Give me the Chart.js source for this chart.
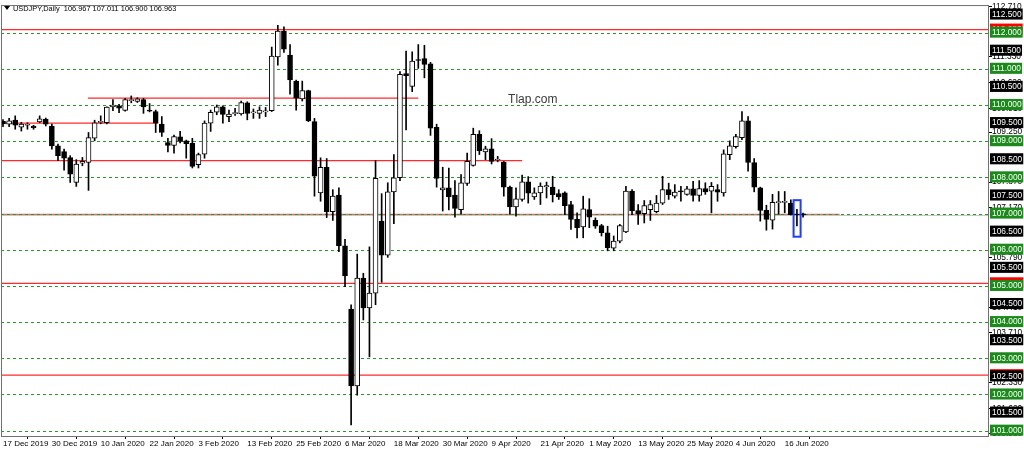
<!DOCTYPE html>
<html>
<head>
<meta charset="utf-8">
<title>USDJPY Daily</title>
<script src="https://cdn.jsdelivr.net/npm/chart.js@4.4.1/dist/chart.umd.min.js"></script>
<style>
  html, body { margin: 0; padding: 0; background: #fff; }
  canvas { display: block; }
</style>
</head>
<body>
<canvas id="priceChart" width="1024" height="452"></canvas>
<script>
// daily candles, first bar = 17 Dec 2019, one bar per trading day
const opens = [
  109.55,109.47,109.58,109.39,109.44,109.42,109.53,109.61,109.42,108.87,
  108.71,108.55,107.86,108.39,108.41,109.08,109.52,109.51,109.95,109.98,
  109.85,110.12,110.10,110.15,109.84,109.82,109.47,108.96,108.88,109.12,
  109.01,108.94,108.35,108.64,109.50,109.80,109.95,109.68,109.76,109.75,
  110.06,109.78,109.77,109.81,109.84,111.33,112.04,111.38,110.66,110.17,
  110.40,109.54,107.57,108.28,107.05,107.51,106.11,104.36,102.24,105.22,
  104.39,104.80,106.79,105.85,107.60,107.99,110.87,110.51,111.24,111.28,
  111.14,109.38,107.65,107.71,107.51,107.11,107.83,108.33,109.19,108.70,
  108.79,108.48,108.42,107.73,107.18,107.39,107.88,107.46,107.57,107.74,
  107.73,107.55,107.57,107.25,106.84,106.63,107.11,106.81,106.67,106.47,
  106.04,106.24,106.49,107.62,107.08,107.00,107.11,107.05,107.29,107.66,
  107.48,107.61,107.53,107.68,107.50,107.69,107.62,107.66,107.57,108.63,
  108.85,109.10,109.56,108.41,107.71,107.09,106.82,107.30,107.31,107.28,
  106.97,106.967
];
const highs = [
  109.60,109.63,109.70,109.52,109.51,109.44,109.70,109.64,109.47,108.92,
  108.78,108.60,108.49,108.55,109.24,109.58,109.70,109.95,110.15,110.02,
  110.18,110.25,110.20,110.18,110.04,109.86,109.68,109.08,109.17,109.27,
  109.03,109.08,108.67,109.56,109.86,110.00,109.98,109.86,109.91,110.11,
  110.09,109.89,109.95,109.93,111.60,112.20,112.16,111.67,110.69,110.66,
  110.41,109.63,108.54,108.52,107.66,107.71,106.29,104.48,105.88,105.35,
  106.08,108.46,107.55,107.85,108.63,110.92,111.49,111.47,111.67,111.65,
  111.18,109.47,108.28,108.26,107.91,108.08,108.67,109.36,109.29,108.86,
  109.07,108.58,108.44,107.76,107.71,108.06,108.02,107.71,107.85,107.87,
  108.03,107.66,107.60,107.34,107.02,107.48,107.41,106.88,106.70,106.65,
  106.38,106.70,107.75,107.66,107.25,107.36,107.36,107.50,108.03,107.84,
  107.80,107.75,107.75,107.89,107.91,107.85,107.86,107.80,108.76,109.01,
  109.19,109.82,109.68,108.52,107.73,107.23,107.53,107.61,107.61,107.38,
  107.12,107.011
];
const lows = [
  109.40,109.40,109.33,109.28,109.33,109.33,109.51,109.42,108.78,108.46,
  108.20,107.86,107.75,108.32,107.64,109.01,109.48,109.48,109.84,109.79,
  109.83,110.06,110.07,109.77,109.81,109.24,109.13,108.70,108.67,108.95,
  108.53,108.26,108.26,108.53,109.27,109.73,109.50,109.54,109.71,109.72,
  109.59,109.63,109.63,109.68,109.82,111.10,111.45,110.30,109.86,110.11,
  109.54,107.48,107.34,106.89,106.81,105.95,104.98,101.16,101.98,104.06,
  103.04,104.48,105.10,105.79,106.72,107.91,109.31,110.37,111.01,110.75,
  109.16,107.73,107.07,107.10,106.90,106.98,107.78,108.31,108.63,108.49,
  108.37,108.43,107.48,106.98,106.93,107.34,107.29,107.39,107.25,107.43,
  107.32,107.39,106.97,106.56,106.33,106.33,106.61,106.59,106.38,105.97,
  105.97,106.19,106.47,106.97,106.70,106.74,106.81,107.02,107.25,107.39,
  107.43,107.34,107.51,107.34,107.34,107.53,107.02,107.34,107.48,108.49,
  108.81,109.04,108.17,107.60,106.79,106.54,106.57,106.98,107.02,106.96,
  106.66,106.900
];
const closes = [
  109.48,109.56,109.44,109.47,109.46,109.37,109.62,109.47,108.87,108.60,
  108.53,108.09,108.37,108.44,109.10,109.51,109.54,109.94,110.00,109.91,
  110.15,110.14,110.17,109.95,109.83,109.50,109.24,108.88,109.13,108.99,
  108.93,108.30,108.63,109.50,109.80,109.95,109.74,109.75,109.78,110.07,
  109.77,109.79,109.86,109.82,111.35,112.04,111.54,110.69,110.19,110.40,
  109.56,108.03,108.28,107.05,107.48,106.11,105.28,102.24,105.22,104.39,
  104.80,107.97,105.85,107.60,107.99,110.85,110.81,111.21,111.23,111.12,
  109.36,107.97,107.71,107.46,107.14,107.85,108.44,109.19,108.74,108.79,
  108.44,108.49,107.73,107.18,107.41,107.88,107.56,107.57,107.76,107.77,
  107.52,107.46,107.22,106.84,106.61,107.13,106.90,106.65,106.47,106.06,
  106.24,106.67,107.62,107.07,107.00,107.22,107.25,107.29,107.66,107.52,
  107.59,107.60,107.68,107.50,107.69,107.60,107.75,107.59,108.65,108.87,
  109.13,109.56,108.41,107.73,107.09,106.84,107.31,107.31,107.32,106.97,
  106.96,106.963
];

// x axis date labels, one every 8 bars
const dateLabels = ['17 Dec 2019','30 Dec 2019','10 Jan 2020','22 Jan 2020','3 Feb 2020',
  '13 Feb 2020','25 Feb 2020','6 Mar 2020','18 Mar 2020','30 Mar 2020','9 Apr 2020',
  '21 Apr 2020','1 May 2020','13 May 2020','25 May 2020','4 Jun 2020','16 Jun 2020'];

// price axis labels
const plainTicks = [112.71,111.33,110.62,109.91,109.25,107.87,107.17,105.79,104.41,103.71,102.33,101.62,100.93];
const blackTicks = [112.5,111.5,110.5,109.5,108.5,107.5,106.5,105.5,104.5,103.5,102.5,101.5];
const greenLevels = [112,111,110,109,108,107,106,105,104,103,102,101];

// horizontal red lines across the whole chart
const redLevels = [112.083, 105.072, 102.533];
// shorter red lines (price, first bar, last bar)
const segLevels = [110.19, 109.50, 108.46, 106.98];
const segFrom = [13.9, -1, -1, -1];
const segTo = [68.0, 25.4, 85.0, 137.0];

const lastPrice = 106.963;
const header = 'USDJPY,Daily  106.967 107.011 106.900 106.963';

const GREEN = '#1b8a1b';
const RED = '#ff2a2a';
const FONT = 'Liberation Sans';

Chart.defaults.font.family = FONT;

const yTicks = [...plainTicks, ...redLevels, ...blackTicks, ...greenLevels];
const yKinds = [
  ...plainTicks.map(() => 'plain'),
  ...redLevels.map(() => 'red'),
  ...blackTicks.map(() => 'black'),
  ...greenLevels.map(() => 'green')
];
const labelBg = { plain: 'transparent', red: '#ff0000', black: '#000000', green: GREEN };

const linesPlugin = {
  id: 'levels',
  beforeDatasetsDraw(chart) {
    const { ctx, chartArea, scales: { x, y } } = chart;
    ctx.save();
    ctx.beginPath();
    ctx.rect(chartArea.left, chartArea.top, chartArea.right - chartArea.left, chartArea.bottom - chartArea.top);
    ctx.clip();

    // current price line
    ctx.strokeStyle = '#c8c8c8';
    ctx.lineWidth = 1;
    let py = Math.round(y.getPixelForValue(lastPrice)) + 0.5;
    ctx.beginPath(); ctx.moveTo(chartArea.left, py); ctx.lineTo(chartArea.right, py); ctx.stroke();

    // red levels
    ctx.strokeStyle = RED;
    ctx.lineWidth = 1.3;
    redLevels.forEach(v => {
      const p = y.getPixelForValue(v);
      ctx.beginPath(); ctx.moveTo(chartArea.left, p); ctx.lineTo(chartArea.right, p); ctx.stroke();
    });
    segLevels.forEach((v, i) => {
      const p = y.getPixelForValue(v);
      ctx.strokeStyle = i === 3 ? '#f26a6a' : RED;
      ctx.beginPath();
      ctx.moveTo(x.getPixelForValue(segFrom[i]), p);
      ctx.lineTo(x.getPixelForValue(segTo[i]), p);
      ctx.stroke();
    });

    // green dashed round numbers
    ctx.strokeStyle = '#2c962c';
    ctx.lineWidth = 1;
    ctx.setLineDash([3, 3]);
    greenLevels.forEach(v => {
      const p = Math.round(y.getPixelForValue(v)) + 0.5;
      ctx.beginPath(); ctx.moveTo(chartArea.left, p); ctx.lineTo(chartArea.right, p); ctx.stroke();
    });
    ctx.restore();
  },
  afterDatasetsDraw(chart) {
    const { ctx, chartArea, scales: { x, y } } = chart;
    ctx.save();

    // selection box around the last closed bar
    ctx.strokeStyle = '#1f3cff';
    ctx.lineWidth = 2;
    const bx1 = x.getPixelForValue(129.45), bx2 = x.getPixelForValue(130.6);
    const by1 = y.getPixelForValue(107.37), by2 = y.getPixelForValue(106.36);
    ctx.strokeRect(bx1, by1, bx2 - bx1, by2 - by1);

    // watermark
    ctx.fillStyle = '#3a3a3a';
    ctx.font = '12px ' + FONT;
    ctx.textBaseline = 'middle';
    ctx.fillText('Tlap.com', x.getPixelForValue(82.7), y.getPixelForValue(110.15));

    // header
    ctx.fillStyle = '#000';
    ctx.beginPath();
    ctx.moveTo(4, 6); ctx.lineTo(10, 6); ctx.lineTo(7, 10); ctx.closePath(); ctx.fill();
    ctx.font = '7.4px ' + FONT;
    ctx.fillText(header, 13, 8.5);

    // frame
    ctx.strokeStyle = '#707070';
    ctx.lineWidth = 1;
    ctx.strokeRect(chartArea.left + 0.5, chartArea.top + 0.5,
      chartArea.right - chartArea.left - 1, chartArea.bottom - chartArea.top);
    ctx.restore();
  }
};

new Chart(document.getElementById('priceChart'), {
  type: 'bar',
  data: {
    datasets: [
      {
        label: 'body',
        data: opens.map((o, i) => ({ x: i, y: [o, closes[i]] })),
        backgroundColor: opens.map((o, i) => closes[i] >= o ? '#ffffff' : '#000000'),
        borderColor: '#000000',
        borderWidth: 1,
        borderSkipped: false,
        barThickness: 5,
        minBarLength: 1,
        grouped: false
      },
      {
        label: 'wick',
        data: highs.map((h, i) => ({ x: i, y: [lows[i], h] })),
        backgroundColor: '#000000',
        borderWidth: 0,
        barThickness: 1,
        grouped: false
      }
    ]
  },
  options: {
    responsive: false,
    animation: false,
    devicePixelRatio: 1,
    layout: { padding: { left: 1, top: 3, right: 0, bottom: 0 } },
    plugins: { legend: { display: false }, tooltip: { enabled: false } },
    scales: {
      x: {
        type: 'linear',
        min: -0.33,
        max: 161.45,
        offset: false,
        afterBuildTicks: s => { s.ticks = dateLabels.map((_, k) => ({ value: k * 8 })); },
        afterFit: s => { s.height = 16; },
        grid: { drawOnChartArea: false, drawTicks: true, tickLength: 3, color: '#000' },
        border: { display: false },
        ticks: {
          autoSkip: false,
          maxRotation: 0,
          align: 'start',
          padding: 0,
          color: '#000',
          font: { size: 8 },
          callback: (v, idx) => dateLabels[idx]
        }
      },
      y: {
        position: 'right',
        min: 100.853,
        max: 112.762,
        afterBuildTicks: s => { s.ticks = yTicks.map(v => ({ value: v })); },
        afterFit: s => { s.width = 35; },
        grid: {
          drawOnChartArea: false,
          drawTicks: true,
          tickLength: 3,
          color: c => yKinds[c.index] === 'plain' ? '#000' : 'transparent'
        },
        border: { display: false },
        ticks: {
          autoSkip: false,
          padding: 0,
          font: { size: 8.4 },
          color: c => yKinds[c.index] === 'plain' ? '#000' : '#fff',
          showLabelBackdrop: c => yKinds[c.index] !== 'plain',
          backdropColor: c => labelBg[yKinds[c.index]],
          backdropPadding: { top: 1, bottom: 0, left: 2, right: 1 },
          callback: v => Number(v).toFixed(3)
        }
      }
    }
  },
  plugins: [linesPlugin]
});
</script>
</body>
</html>
